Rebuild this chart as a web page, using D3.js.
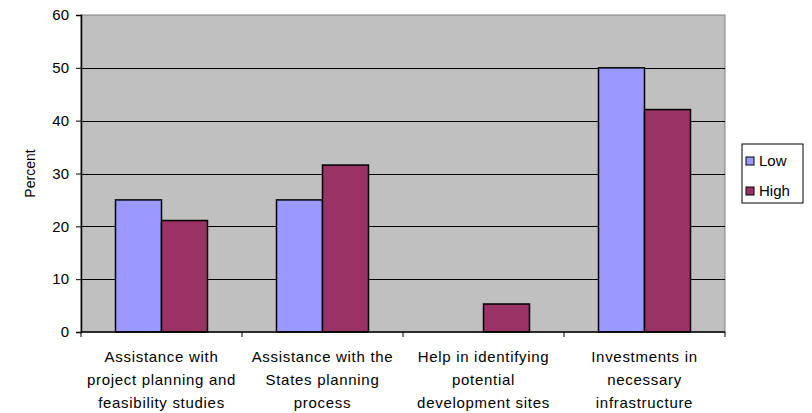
<!DOCTYPE html>
<html>
<head>
<meta charset="utf-8">
<script src="https://cdn.jsdelivr.net/npm/d3@7"></script>
<style>
  body { margin: 0; background: #fff; }
  text { font-family: "Liberation Sans", Arial, sans-serif; fill: #000; }
</style>
</head>
<body>
<svg id="barChart" width="812" height="413"></svg>
<script>
var categories = [
  ["Assistance with", "project planning and", "feasibility studies"],
  ["Assistance with the", "States planning", "process"],
  ["Help in identifying", "potential", "development sites"],
  ["Investments in", "necessary", "infrastructure"]
];
var seriesNames = ["Low", "High"];
var lowValues = [25, 25, 0, 50];
var highValues = [21.1, 31.6, 5.3, 42.1];
var yTicks = [0, 10, 20, 30, 40, 50, 60];
var colors = ["#9999FF", "#993366"];

var svg = d3.select("#barChart"),
    margin = {top: 15, right: 87, bottom: 81, left: 81},
    width = +svg.attr("width") - margin.left - margin.right,
    height = +svg.attr("height") - margin.top - margin.bottom;

var x = d3.scaleBand().domain(d3.range(categories.length)).range([0, width]).paddingInner(0).paddingOuter(0);
var inner = d3.scaleBand().domain(seriesNames).range([0, x.bandwidth()]).paddingInner(0).paddingOuter(0.75);
var y = d3.scaleLinear().domain([0, 60]).range([height, 0]);

var g = svg.append("g")
    .attr("transform", "translate(" + margin.left + "," + margin.top + ")");

// plot background
g.append("rect")
    .attr("width", width).attr("height", height)
    .attr("fill", "#C0C0C0")
    .attr("stroke", "#808080").attr("stroke-width", 1);

// gridlines
g.selectAll(".grid")
  .data(yTicks.filter(function(d) { return d > 0 && d < 60; }))
  .enter().append("line")
    .attr("x1", 0).attr("x2", width)
    .attr("y1", function(d) { return Math.round(y(d)) + 0.5; })
    .attr("y2", function(d) { return Math.round(y(d)) + 0.5; })
    .attr("stroke", "#000").attr("stroke-width", 1);

// bars
var rows = categories.map(function(c, i) {
  return [{s: "Low", v: lowValues[i], c: 0}, {s: "High", v: highValues[i], c: 1}];
});
var groups = g.selectAll(".grp").data(rows).enter().append("g")
    .attr("transform", function(d, i) { return "translate(" + x(i) + ",0)"; });
groups.selectAll("rect")
  .data(function(d) { return d.filter(function(e) { return e.v > 0; }); })
  .enter().append("rect")
    .attr("x", function(d) { return inner(d.s); })
    .attr("y", function(d) { return y(d.v); })
    .attr("width", inner.bandwidth())
    .attr("height", function(d) { return height - y(d.v); })
    .attr("fill", function(d) { return colors[d.c]; })
    .attr("stroke", "#000").attr("stroke-width", 1.5);

// y axis
var yAxis = g.append("g")
    .call(d3.axisLeft(y).tickValues(yTicks).tickSize(5).tickPadding(7));
yAxis.select(".domain").attr("stroke", "#000").attr("stroke-width", 1.5);
yAxis.selectAll("text").attr("font-size", 15).style("font-family", "Liberation Sans, Arial, sans-serif");

// x axis
var xAxis = g.append("g")
    .attr("transform", "translate(0," + height + ")");
xAxis.append("line").attr("x1", 0).attr("x2", width).attr("stroke", "#000").attr("stroke-width", 1.5);
xAxis.selectAll(".tick")
  .data(d3.range(categories.length + 1))
  .enter().append("line")
    .attr("x1", function(d) { return d * x.bandwidth(); })
    .attr("x2", function(d) { return d * x.bandwidth(); })
    .attr("y1", 0).attr("y2", 5)
    .attr("stroke", "#000");
xAxis.selectAll(".lbl")
  .data(categories)
  .enter().append("text")
    .attr("text-anchor", "middle")
    .attr("font-size", 15)
    .attr("letter-spacing", 0.7)
    .attr("transform", function(d, i) { return "translate(" + (x(i) + x.bandwidth() / 2) + ",30)"; })
  .selectAll("tspan")
  .data(function(d) { return d; })
  .enter().append("tspan")
    .attr("x", 0)
    .attr("dy", function(d, i) { return i === 0 ? 0 : 23; })
    .text(function(d) { return d; });

// y label
svg.append("text")
    .attr("transform", "translate(35," + (margin.top + height / 2) + ") rotate(-90)")
    .attr("text-anchor", "middle")
    .attr("font-size", 14)
    .text("Percent");

// legend
var legend = svg.append("g").attr("transform", "translate(742,144)");
legend.append("rect").attr("width", 61).attr("height", 59)
    .attr("fill", "#fff").attr("stroke", "#000");
var items = legend.selectAll(".item").data(seriesNames).enter().append("g")
    .attr("transform", function(d, i) { return "translate(4," + (13 + i * 30) + ")"; });
items.append("rect").attr("width", 8).attr("height", 8)
    .attr("fill", function(d, i) { return colors[i]; })
    .attr("stroke", "#000");
items.append("text").attr("x", 13).attr("y", 9).attr("font-size", 15)
    .text(function(d) { return d; });
</script>
</body>
</html>
